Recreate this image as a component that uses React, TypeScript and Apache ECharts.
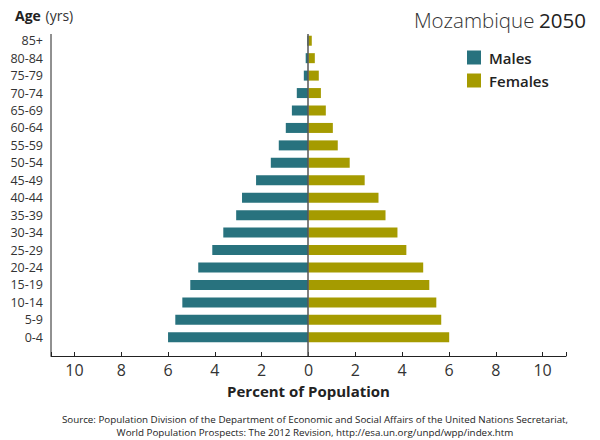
import React, { useEffect, useRef } from "react";
import * as echarts from "echarts";

const ageGroups = ["0-4", "5-9", "10-14", "15-19", "20-24", "25-29", "30-34", "35-39", "40-44", "45-49", "50-54", "55-59", "60-64", "65-69", "70-74", "75-79", "80-84", "85+"];
const males = [6.0, 5.69, 5.39, 5.05, 4.71, 4.11, 3.64, 3.09, 2.84, 2.24, 1.61, 1.27, 0.97, 0.71, 0.5, 0.2, 0.12, 0.05];
const females = [6.01, 5.67, 5.46, 5.16, 4.9, 4.18, 3.8, 3.29, 2.99, 2.4, 1.76, 1.25, 1.04, 0.74, 0.53, 0.44, 0.27, 0.14];
const labelTicks = [-10, -8, -6, -4, -2, 0, 2, 4, 6, 8, 10];
const tickMarks = [-11, -10, -8, -6, -4, -2, 0, 2, 4, 6, 8, 10, 11];

const FONT = "'Open Sans', 'Noto Sans', sans-serif";

export default function App() {
  const ref = useRef<HTMLDivElement>(null);
  useEffect(() => {
    if (!ref.current) return;
    const chart = echarts.init(ref.current, null, { renderer: "svg" });
    chart.setOption({
      animation: false,
      textStyle: { fontFamily: FONT },
      title: [
        {
          text: "{l|Mozambique} {r|2050}",
          right: 9,
          top: 4,
          textStyle: {
            rich: {
              l: { fontFamily: FONT, fontSize: 20.5, fontWeight: 300, color: "#333" },
              r: { fontFamily: FONT, fontSize: 20.5, fontWeight: 400, color: "#222" },
            },
          },
        },
        {
          text: "{b|Age} {n|(yrs)}",
          left: 10,
          top: 1,
          textStyle: {
            rich: {
              b: { fontFamily: FONT, fontSize: 14, fontWeight: 700, color: "#222" },
              n: { fontFamily: FONT, fontSize: 14, fontWeight: 400, color: "#333" },
            },
          },
        },
        {
          text: "Source: Population Division of the Department of Economic and Social Affairs of the United Nations Secretariat,\nWorld Population Prospects: The 2012 Revision, http://esa.un.org/unpd/wpp/index.htm",
          left: 310,
          textAlign: "center",
          top: 408,
          textStyle: { fontFamily: FONT, fontSize: 9.8, fontWeight: 400, color: "#222", lineHeight: 13 },
        },
      ],
      legend: {
        data: ["Males", "Females"],
        orient: "vertical",
        left: 462,
        top: 45,
        itemWidth: 14,
        itemHeight: 14,
        itemGap: 8,
        icon: "rect",
        textStyle: { fontFamily: FONT, fontSize: 15, fontWeight: 600, color: "#222", padding: [0, 0, 0, 3] },
      },
      grid: { left: 51, right: 34, top: 32, bottom: 94, containLabel: false },
      xAxis: {
        type: "value",
        min: -11,
        max: 11,
        offset: 10,
        splitLine: { show: false },
        axisLine: { show: true, lineStyle: { color: "#222", width: 1 } },
        axisTick: { show: true, inside: true, length: 4, customValues: tickMarks, lineStyle: { color: "#222" } },
        axisLabel: {
          customValues: labelTicks,
          formatter: (v: number) => String(Math.abs(v)),
          fontFamily: FONT,
          fontSize: 16,
          color: "#333",
          margin: 6,
        },
        name: "Percent of Population",
        nameLocation: "middle",
        nameGap: 27,
        nameTextStyle: { fontFamily: FONT, fontSize: 15, fontWeight: 700, color: "#222" },
      },
      yAxis: {
        type: "category",
        data: ageGroups,
        axisLine: { show: false },
        axisTick: { show: false },
        axisLabel: { fontFamily: FONT, fontSize: 12.5, color: "#333", margin: 8 },
      },
      series: [
        {
          name: "Males",
          type: "bar",
          data: males.map((v) => -v),
          barWidth: 10,
          barGap: "-100%",
          itemStyle: { color: "#28727E" },
        },
        {
          name: "Females",
          type: "bar",
          data: females,
          barWidth: 10,
          itemStyle: { color: "#A59B00" },
        },
      ],
    });
    const x0 = chart.convertToPixel({ xAxisIndex: 0 }, 0) as number;
    const xMin = chart.convertToPixel({ xAxisIndex: 0 }, -11) as number;
    const yTop = chart.convertToPixel({ yAxisIndex: 0 }, ageGroups[ageGroups.length - 1]) as number;
    const yBottom = chart.convertToPixel({ yAxisIndex: 0 }, ageGroups[0]) as number;
    const step = (yBottom - yTop) / (ageGroups.length - 1);
    const top = yTop - step / 2 + 2;
    const axisY = yBottom + step / 2 + 10;
    chart.setOption({
      graphic: [
        {
          type: "line",
          shape: { x1: xMin, y1: top, x2: xMin, y2: axisY },
          style: { stroke: "#222", lineWidth: 1 },
          z: 100,
        },
        {
          type: "line",
          shape: { x1: x0 - 0.5, y1: top, x2: x0 - 0.5, y2: axisY },
          style: { stroke: "#555", lineWidth: 2, opacity: 0.75 },
          z: 100,
        },
      ],
    });
    return () => chart.dispose();
  }, []);
  return <div ref={ref} style={{ position: "absolute", left: 0, top: 0, width: 600, height: 440 }} />;
}
